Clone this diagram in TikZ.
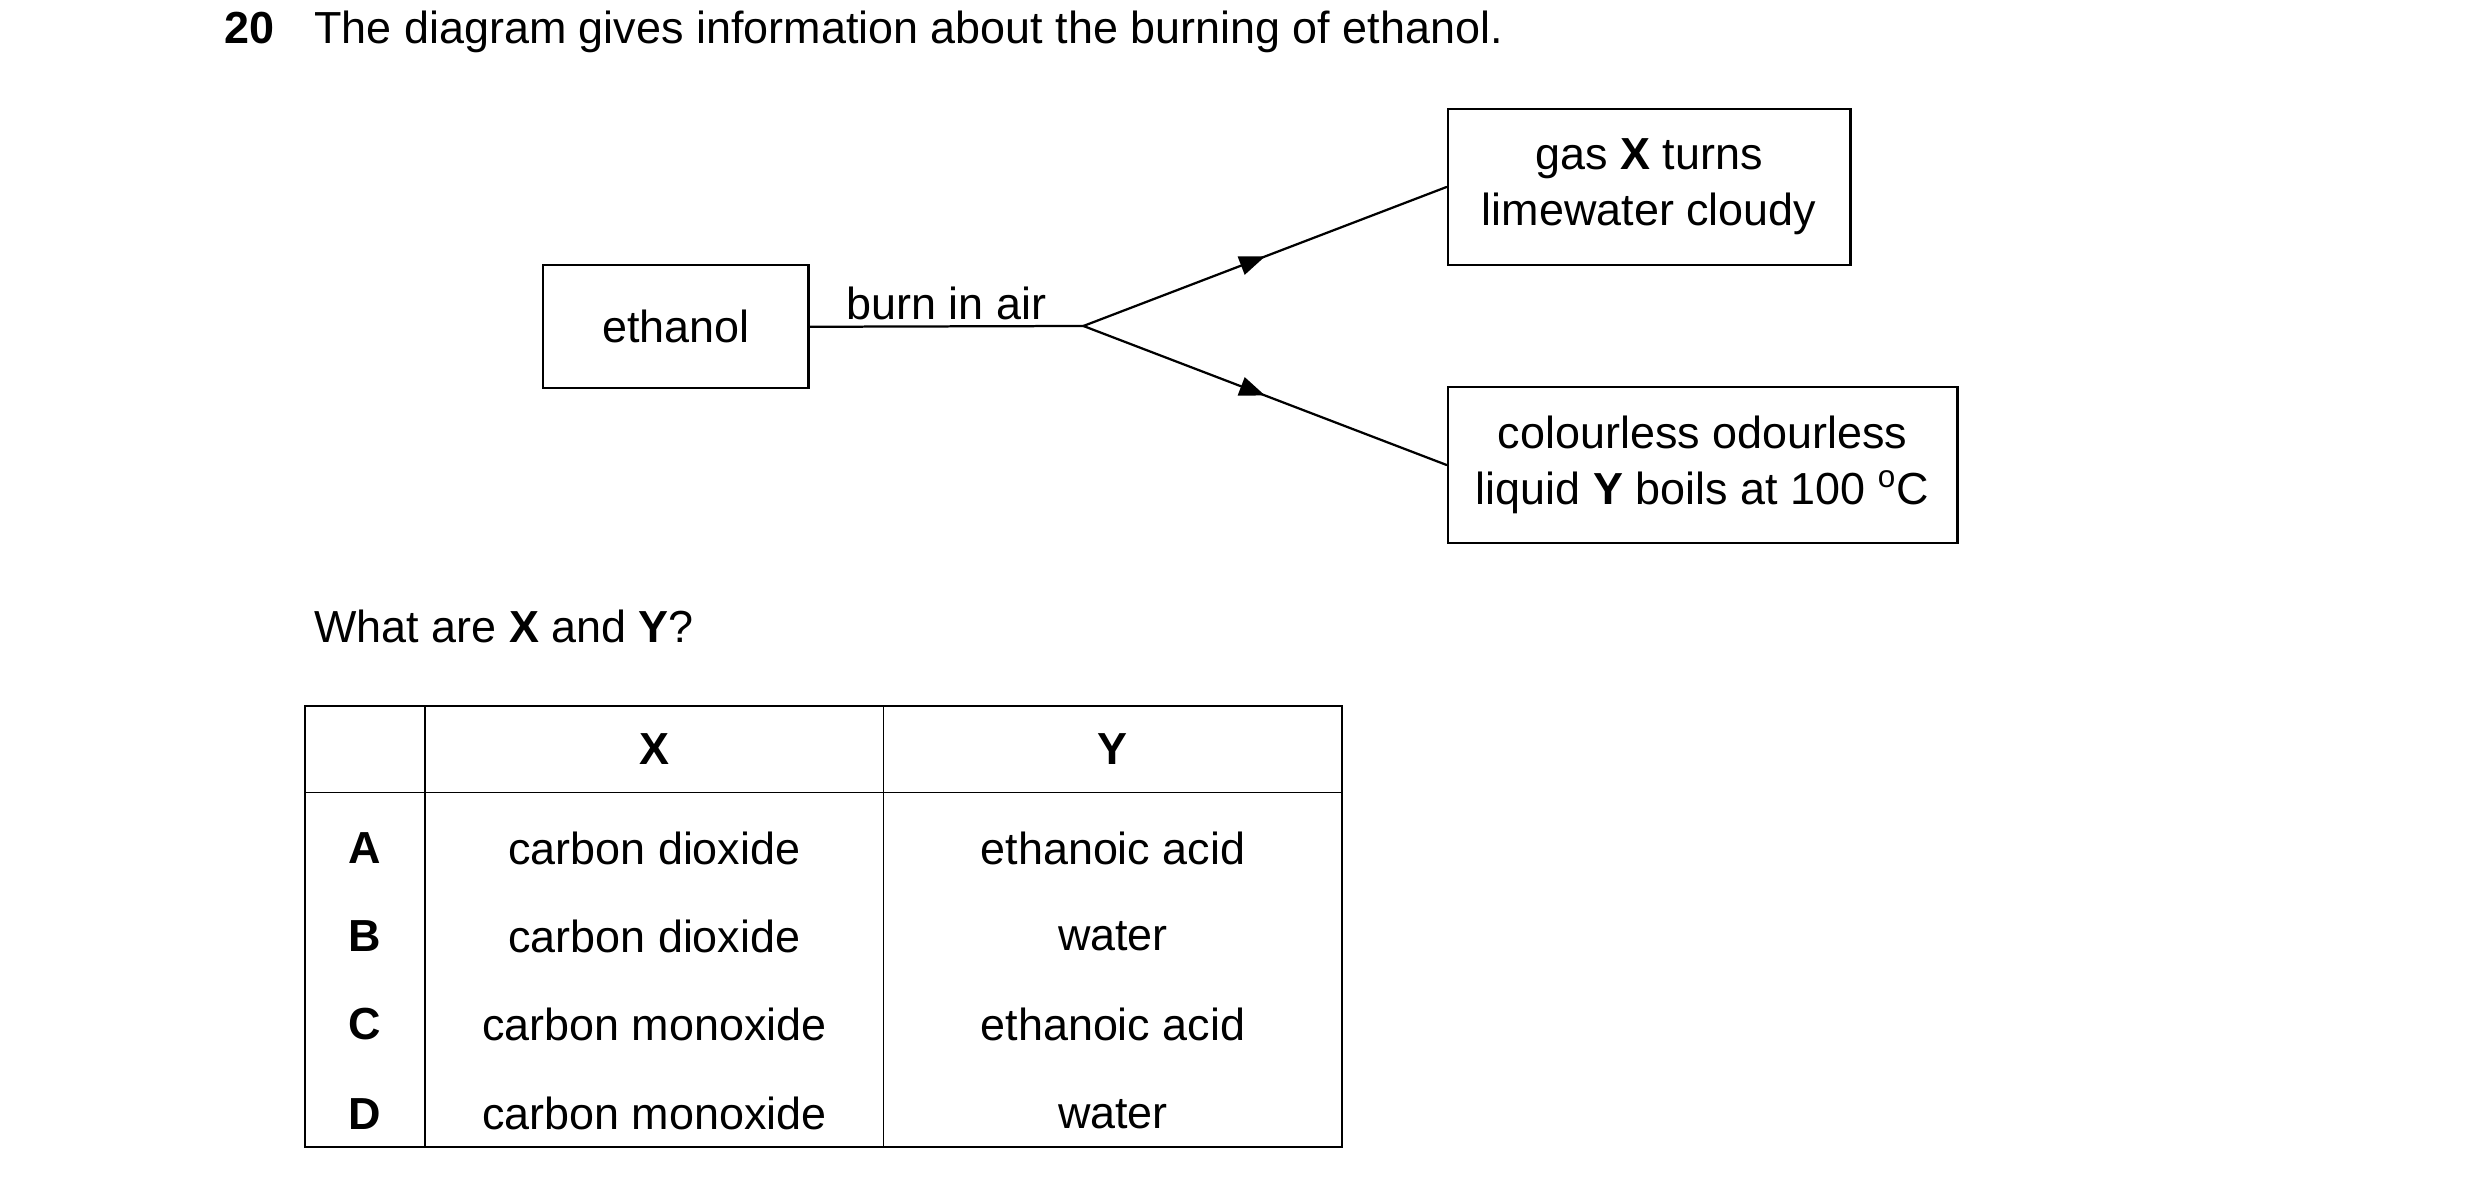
\documentclass[tikz,border=0pt]{standalone}
\usepackage{fontspec}
\setmainfont{Liberation Sans}
\usetikzlibrary{arrows.meta}
\usetikzlibrary{decorations.markings}

\begin{document}
\fontsize{16}{20}\selectfont
\begin{tikzpicture}[x=0.02cm, y=-0.02cm, line cap=round,
    box/.style={draw, thick, align=center, inner sep=0pt},
    midarrow/.style={thick, postaction={decorate}, decoration={markings,
        mark=at position 0.5 with {\arrow{Triangle[length=3.2mm, width=2.4mm]}}}}]

    \useasboundingbox (0,0) rectangle (1552,737);

    % question
    \node[anchor=base west, font=\bfseries] (num) at (131,27) {20};
    \node[anchor=base west] (q) at (187,27) {The diagram gives information about the burning of ethanol.};

    % scheme
    \node[box, minimum width=3.32cm, minimum height=1.54cm] (eth) at (423,204.5) {ethanol};
    \node[box, minimum width=5.04cm, minimum height=1.96cm] (gas) at (1032,117) {gas \textbf{X} turns\\limewater cloudy};
    \node[box, minimum width=6.38cm, minimum height=1.96cm] (liq) at (1065.5,291) {colourless odourless\\liquid \textbf{Y} boils at 100 $^{\mathrm{o}}$C};
    \coordinate (fork) at (678,204);
    \draw[thick] (eth.east) -- node[above, inner sep=2pt] (burn) {burn in air} (fork);
    \draw[midarrow] (fork) -- (gas.west);
    \draw[midarrow] (fork) -- (liq.west);

    \node[anchor=base west] (ask) at (187,402) {What are \textbf{X} and \textbf{Y}?};

    % table
    \draw[thick] (191,442) rectangle (840,718);
    \foreach \x in {266,553} {
        \draw (\x,442) -- (\x,718);
    }
    \draw (191,496) -- (840,496);
    \node[font=\bfseries] (hx) at (409.5,469) {X};
    \node[font=\bfseries] (hy) at (696.5,469) {Y};
    \foreach \l/\a/\b/\y in {A/carbon dioxide/ethanoic acid/531,
                             B/carbon dioxide/water/586,
                             C/carbon monoxide/ethanoic acid/641,
                             D/carbon monoxide/water/697} {
        \node[font=\bfseries] (l\l) at (228.5,\y) {\l};
        \node (x\l) at (409.5,\y) {\a};
        \node (y\l) at (696.5,\y) {\b};
    }
\end{tikzpicture}
\end{document}
